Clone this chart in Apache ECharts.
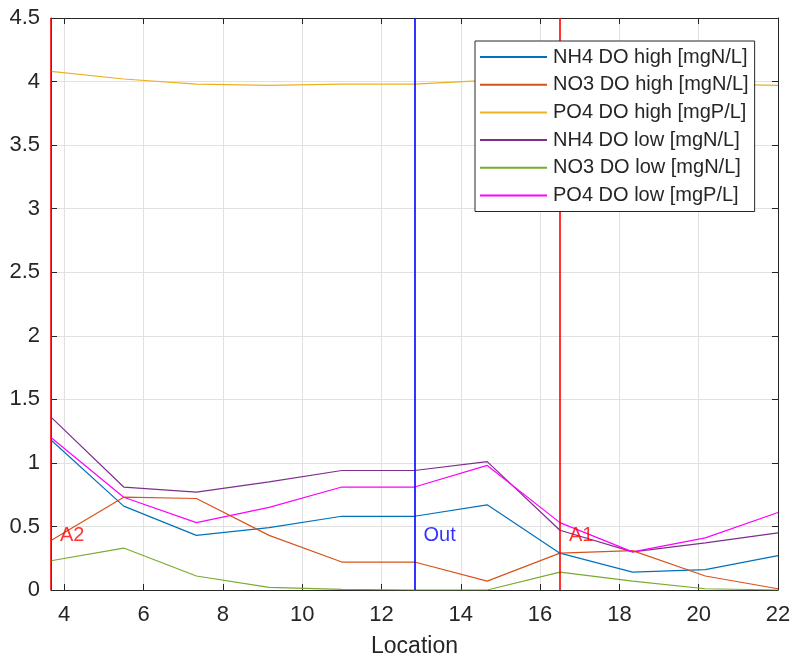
<!DOCTYPE html>
<html>
<head>
<meta charset="utf-8">
<script src="https://cdn.jsdelivr.net/npm/echarts@6/dist/echarts.min.js"></script>
<style>html,body{margin:0;padding:0;background:#fff}#c{width:793px;height:659px}</style>
</head>
<body>
<div id="c"></div>
<script>
const locations = [3.6667, 5.5, 7.3333, 9.1667, 11, 12.8333, 14.6667, 16.5, 18.3333, 20.1667, 22];
const nh4High = [1.18, 0.66, 0.43, 0.49, 0.58, 0.58, 0.67, 0.29, 0.14, 0.16, 0.27];
const no3High = [0.39, 0.73, 0.72, 0.43, 0.22, 0.22, 0.07, 0.29, 0.31, 0.11, 0.01];
const po4High = [4.08, 4.02, 3.98, 3.97, 3.98, 3.98, 4.01, 4.00, 3.99, 3.98, 3.97];
const nh4Low  = [1.36, 0.81, 0.77, 0.85, 0.94, 0.94, 1.01, 0.47, 0.30, 0.37, 0.45];
const no3Low  = [0.23, 0.33, 0.11, 0.02, 0.005, 0.0, 0.0, 0.14, 0.07, 0.01, 0.0];
const po4Low  = [1.20, 0.73, 0.53, 0.65, 0.81, 0.81, 0.98, 0.53, 0.30, 0.41, 0.61];
const seriesNames = ['NH4 DO high [mgN/L]', 'NO3 DO high [mgN/L]', 'PO4 DO high [mgP/L]',
                     'NH4 DO low [mgN/L]', 'NO3 DO low [mgN/L]', 'PO4 DO low [mgP/L]'];
const seriesValues = [nh4High, no3High, po4High, nh4Low, no3Low, po4Low];
const seriesColors = ['#0072BD', '#D95319', '#EDB120', '#7E2F8E', '#77AC30', '#FF00FF'];
const markerX = [3.6667, 12.8333, 16.5];
const markerLabels = ['A2', 'Out', 'A1'];
const markerColors = ['#FF0000', '#0000FF', '#FF0000'];
const markerLabelY = 0.43;
const xTicks = [4, 6, 8, 10, 12, 14, 16, 18, 20, 22];
const xMin = 3.6667, xMax = 22, yMin = 0, yMax = 4.5, yStep = 0.5;

const FONT = 'Liberation Sans, Arial, sans-serif';
const AX = '#262626';
const GRIDC = '#e1e1e1';

const chart = echarts.init(document.getElementById('c'), null, {renderer: 'canvas'});

const lineSeries = seriesNames.map((n, i) => ({
  name: n, type: 'line', xAxisIndex: 0, yAxisIndex: 0,
  data: locations.map((x, j) => [x, seriesValues[i][j]]),
  symbol: 'none', showSymbol: false,
  lineStyle: {color: seriesColors[i], width: 1.2},
  itemStyle: {color: seriesColors[i]},
  z: 3, animation: false
}));

const markerSeries = markerX.map((x, i) => ({
  name: 'marker' + i, type: 'scatter', xAxisIndex: 0, yAxisIndex: 0,
  data: [[x, markerLabelY]], symbolSize: 0,
  label: {show: true, position: 'right', distance: 9, formatter: markerLabels[i],
          color: markerColors[i], fontSize: 20, fontFamily: FONT},
  markLine: {
    silent: true, symbol: ['none', 'none'], animation: false,
    label: {show: false},
    lineStyle: {color: markerColors[i], width: 1.6, type: 'solid'},
    data: [{xAxis: x}]
  },
  z: 5, animation: false
}));

const baseX = {
  type: 'value', min: xMin, max: xMax,
  axisLine: {show: true, onZero: false, lineStyle: {color: AX, width: 1}},
};
const baseY = {
  type: 'value', min: yMin, max: yMax, interval: yStep,
  axisLine: {show: true, onZero: false, lineStyle: {color: AX, width: 1}},
};

chart.setOption({
  animation: false,
  backgroundColor: '#fff',
  grid: {left: 51, right: 15, top: 18, bottom: 69, containLabel: false, outerBoundsMode: 'none'},
  xAxis: [
    Object.assign({}, baseX, {
      position: 'bottom',
      name: 'Location', nameLocation: 'middle', nameGap: 45,
      nameTextStyle: {color: AX, fontSize: 23, fontFamily: FONT},
      axisTick: {show: true, inside: true, length: 6, customValues: xTicks, lineStyle: {color: AX}},
      axisLabel: {show: true, margin: 14, customValues: xTicks, color: AX, fontSize: 22, fontFamily: FONT},
      splitLine: {show: true, lineStyle: {color: GRIDC, width: 1}}
    }),
    Object.assign({}, baseX, {
      position: 'top',
      axisTick: {show: true, inside: true, length: 6, customValues: xTicks, lineStyle: {color: AX}},
      axisLabel: {show: false},
      splitLine: {show: false}
    })
  ],
  yAxis: [
    Object.assign({}, baseY, {
      position: 'left',
      axisTick: {show: true, inside: true, length: 6, lineStyle: {color: AX}},
      axisLabel: {show: true, margin: 11, color: AX, fontSize: 22, fontFamily: FONT},
      splitLine: {show: true, lineStyle: {color: GRIDC, width: 1}}
    }),
    Object.assign({}, baseY, {
      position: 'right',
      axisTick: {show: true, inside: true, length: 6, lineStyle: {color: AX}},
      axisLabel: {show: false},
      splitLine: {show: false}
    })
  ],
  legend: {
    data: seriesNames, orient: 'vertical', left: 475, top: 41,
    padding: [6, 6, 6, 5], itemGap: 7.7, itemWidth: 67, itemHeight: 2,
    icon: 'rect',
    backgroundColor: '#fff', borderColor: '#262626', borderWidth: 1,
    textStyle: {color: AX, fontSize: 20, fontFamily: FONT, lineHeight: 20, padding: [0, 0, 0, 1]},
    z: 10
  },
  series: lineSeries.concat(markerSeries)
});
</script>
</body>
</html>
